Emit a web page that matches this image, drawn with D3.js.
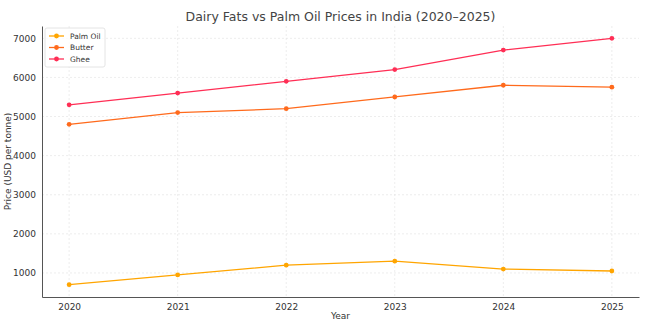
<!DOCTYPE html>
<html><head><meta charset="utf-8">
<script src="https://cdn.jsdelivr.net/npm/d3@7"></script>
<style>body{margin:0;background:#fff}svg{display:block}text{font-family:"DejaVu Sans",sans-serif}</style>
</head><body><svg id="c" width="671" height="322"></svg>
<script>
const years = [2020, 2021, 2022, 2023, 2024, 2025];
const palmOil = [700, 950, 1200, 1300, 1100, 1050];
const butter = [4800, 5100, 5200, 5500, 5800, 5750];
const ghee = [5300, 5600, 5900, 6200, 6700, 7000];
const yTicks = [1000, 2000, 3000, 4000, 5000, 6000, 7000];
const seriesNames = ["Palm Oil", "Butter", "Ghee"];
const seriesColors = ["#FFA500", "#FF6A1C", "#FF2E55"];

const series = [palmOil, butter, ghee].map((v, i) => ({name: seriesNames[i], color: seriesColors[i], values: v}));
const svg = d3.select("#c");
const L = 42, R = 639, T = 26, B = 297;
const x = d3.scaleLinear().domain([2019.75, 2025.25]).range([L, R]);
const y = d3.scaleLinear().domain([385, 7315]).range([B, T]);

// grid
svg.append("g").selectAll("line").data(years).join("line")
  .attr("x1", d => x(d)).attr("x2", d => x(d)).attr("y1", T).attr("y2", B)
  .attr("stroke", "#e0e0e0").attr("stroke-width", 0.6).attr("stroke-dasharray", "2,2");
svg.append("g").selectAll("line").data(yTicks).join("line")
  .attr("x1", L).attr("x2", R).attr("y1", d => y(d)).attr("y2", d => y(d))
  .attr("stroke", "#e0e0e0").attr("stroke-width", 0.6).attr("stroke-dasharray", "2,2");

// axes
const xa = svg.append("g").attr("transform", `translate(0,${B})`)
  .call(d3.axisBottom(x).tickValues(years).tickFormat(d3.format("d")).tickSize(0).tickPadding(7));
const ya = svg.append("g").attr("transform", `translate(${L},0)`)
  .call(d3.axisLeft(y).tickValues(yTicks).tickFormat(d3.format("d")).tickSize(0).tickPadding(6));
[xa, ya].forEach(a => {
  a.select(".domain").attr("stroke", "#555").attr("stroke-width", 1);
  a.selectAll("text").attr("font-size", 9).attr("fill", "#333").attr("font-family", "DejaVu Sans");
});

// lines
const line = d3.line().x((d, i) => x(years[i])).y(d => y(d));
series.forEach(s => {
  svg.append("path").datum(s.values).attr("d", line).attr("fill", "none")
    .attr("stroke", s.color).attr("stroke-width", 1.3);
  svg.append("g").selectAll("circle").data(s.values).join("circle")
    .attr("cx", (d, i) => x(years[i])).attr("cy", d => y(d)).attr("r", 2.4).attr("fill", s.color);
});

// title & labels
svg.append("text").attr("x", (L + R) / 2).attr("y", 21).attr("text-anchor", "middle")
  .attr("font-size", 12.5).attr("fill", "#444").text("Dairy Fats vs Palm Oil Prices in India (2020–2025)");
svg.append("text").attr("x", (L + R) / 2).attr("y", 319).attr("text-anchor", "middle")
  .attr("font-size", 9).attr("fill", "#333").text("Year");
svg.append("text").attr("transform", `translate(11,${(T + B) / 2}) rotate(-90)`).attr("text-anchor", "middle")
  .attr("font-size", 9).attr("fill", "#333").text("Price (USD per tonne)");

// legend
const lg = svg.append("g").attr("transform", "translate(45,28)");
lg.append("rect").attr("width", 60).attr("height", 39).attr("rx", 2)
  .attr("fill", "#fff").attr("fill-opacity", 0.8).attr("stroke", "#ddd").attr("stroke-width", 0.8);
series.forEach((s, i) => {
  const yy = 8 + i * 11.5;
  lg.append("line").attr("x1", 4).attr("x2", 19).attr("y1", yy).attr("y2", yy)
    .attr("stroke", s.color).attr("stroke-width", 1.3);
  lg.append("circle").attr("cx", 11.5).attr("cy", yy).attr("r", 2.4).attr("fill", s.color);
  lg.append("text").attr("x", 25).attr("y", yy + 2.5).attr("font-size", 7.5).attr("fill", "#333").text(s.name);
});
</script></body></html>
